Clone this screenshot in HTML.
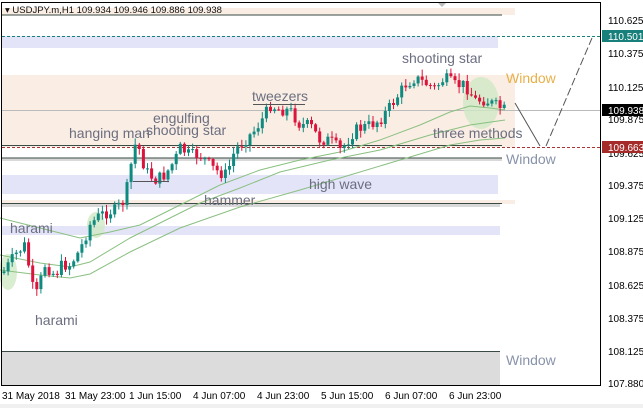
<!DOCTYPE html><html><head><style>body{margin:0;background:#fff}svg{display:block;font-family:"Liberation Sans",sans-serif}</style></head><body>
<svg id="s" width="643" height="408" xmlns="http://www.w3.org/2000/svg">
<rect width="643" height="408" fill="#fff"/>
<rect x="2" y="8" width="513" height="7" fill="#faeee4"/><line x1="2" y1="15" x2="502" y2="15" stroke="#3a4a45"/>
<rect x="2" y="36" width="496" height="12" fill="#e4e4f8"/>
<rect x="2" y="75" width="513" height="72" fill="#faeee4"/>
<rect x="2" y="175" width="496" height="19" fill="#e4e4f8"/>
<rect x="2" y="200" width="513" height="4" fill="#faeee4"/><rect x="2" y="204" width="498" height="3" fill="#d9d9d9"/><line x1="2" y1="203.5" x2="502" y2="203.5" stroke="#3a4a45"/>
<rect x="2" y="226" width="498" height="9" fill="#e4e4f8"/>
<rect x="2" y="351" width="498" height="34" fill="#dcdcdc"/><line x1="2" y1="351.5" x2="500" y2="351.5" stroke="#3a4a45"/>
<rect x="2" y="158" width="500" height="3" fill="#d9d9d9"/><line x1="2" y1="158" x2="502" y2="158" stroke="#3a4a45"/>
<line x1="2" y1="145.5" x2="502" y2="145.5" stroke="#3a4a45"/>
<line x1="2" y1="110.5" x2="600" y2="110.5" stroke="#bbb"/>
<line x1="2" y1="36.5" x2="600" y2="36.5" stroke="#17807a" stroke-dasharray="3,2"/>
<line x1="2" y1="147.5" x2="600" y2="147.5" stroke="#a33" stroke-dasharray="3,2"/>
<ellipse cx="481" cy="103" rx="18" ry="26" fill="#cfe8c4" opacity=".8"/>
<ellipse cx="8" cy="272" rx="9" ry="18" fill="#cfe8c4" opacity=".8"/>
<ellipse cx="96" cy="225" rx="9" ry="13" fill="#cfe8c4" opacity=".8"/>
<g id="ma" fill="none" stroke="#8ac081" stroke-width="1">
<polyline points="0,218 40,228 80,238 110,232 140,225 180,205 220,185 260,170 300,160 340,152 380,140 420,125 450,112 470,106 490,108 505,110"/>
<polyline points="0,255 40,263 70,267 90,262 130,238 170,218 200,203 240,188 280,172 330,160 380,150 430,135 470,125 505,120"/>
<polyline points="0,270 40,275 70,278 90,274 130,252 180,228 240,207 300,190 350,175 400,160 450,145 480,140 505,138"/>
</g>
<g id="c"></g>
<line x1="133" y1="181.5" x2="169" y2="181.5" stroke="#555"/><line x1="253" y1="104.5" x2="305" y2="104.5" stroke="#555"/>
<line x1="515" y1="103" x2="540" y2="146" stroke="#555"/><line x1="546" y1="146" x2="592" y2="38" stroke="#555" stroke-dasharray="8,3"/>
<g font-size="14" fill="#6b6e80">
<text x="69" y="138">hanging man</text><text x="153" y="123">engulfing</text><text x="146" y="135">shooting star</text>
<text x="252" y="101">tweezers</text><text x="402" y="63">shooting star</text><text x="433" y="138">three methods</text>
<text x="309" y="189">high wave</text><text x="204" y="205">hammer</text><text x="10" y="233">harami</text><text x="35" y="325">harami</text>
<text x="506" y="83" fill="#e8b04a">Window</text><text x="506" y="164" fill="#8892aa">Window</text><text x="506" y="365" fill="#8892aa">Window</text>
</g>
<rect x="0" y="0" width="643" height="8" fill="#fff"/>
<text x="5" y="13" font-size="9.5" fill="#111">▾ USDJPY.m,H1  109.934 109.946 109.886 109.938</text>
<polygon points="437,2 447,2 442,7" fill="#bbb"/>
<rect x="1.5" y="2.5" width="599" height="383" fill="none" stroke="#000"/>
<g font-size="10" fill="#000" id="yl">
<text x="608" y="24">110.625</text><text x="608" y="57">110.375</text><text x="608" y="91">110.125</text><text x="608" y="123">109.875</text><text x="608" y="157">109.625</text><text x="608" y="189">109.375</text><text x="608" y="222">109.125</text><text x="608" y="255">108.875</text><text x="608" y="289">108.625</text><text x="608" y="322">108.375</text><text x="608" y="355">108.125</text><text x="608" y="387">107.880</text>
</g>
<rect x="602" y="30" width="41" height="12" fill="#17807a"/><text x="608" y="40" font-size="10" fill="#fff">110.501</text>
<rect x="602" y="104" width="41" height="12" fill="#000"/><text x="608" y="114" font-size="10" fill="#fff">109.938</text>
<rect x="602" y="141" width="41" height="12" fill="#a52a2a"/><text x="608" y="151" font-size="10" fill="#fff">109.663</text>
<g font-size="10" fill="#000"><text x="2" y="399">31 May 2018</text><text x="65" y="399">31 May 23:00</text><text x="129" y="399">1 Jun 15:00</text><text x="193" y="399">4 Jun 07:00</text><text x="257" y="399">4 Jun 23:00</text><text x="321" y="399">5 Jun 15:00</text><text x="385" y="399">6 Jun 07:00</text><text x="449" y="399">6 Jun 23:00</text></g>
<rect x="0" y="404" width="643" height="4" fill="#f0f0f0"/>
</svg>
<script>
var k=[[5,270],[15,255],[25,245],[35,300],[45,265],[55,275],[62,265],[70,265],[80,250],[90,225],[100,215],[115,210],[125,200],[130,170],[135,145],[140,150],[145,170],[155,180],[165,175],[175,160],[180,148],[190,155],[200,155],[210,165],[215,170],[225,175],[230,165],[235,150],[245,140],[255,130],[265,115],[270,105],[280,110],[290,110],[300,125],[310,125],[320,140],[330,140],[340,150],[345,145],[355,130],[370,125],[380,120],[395,100],[405,85],[415,78],[425,83],[435,88],[445,78],[455,85],[465,85],[475,100],[485,100],[495,105],[505,110]];
function f(x){for(var i=1;i<k.length;i++)if(x<=k[i][0]){var a=k[i-1],b=k[i];return a[1]+(b[1]-a[1])*(x-a[0])/(b[0]-a[0]);}return 110;}
var g=document.getElementById('c'),h='',s=7,prev=f(3);
function r(){s=(s*9301+49297)%233280;return s/233280;}
for(var x=4;x<=505;x+=4.1){var c=f(x)+(r()-.5)*12,o=prev;var t=Math.min(o,c)-r()*6-1,b=Math.max(o,c)+r()*6+1;var col=c<o?'#0f8a80':'#dc143c';
h+='<line x1="'+x.toFixed(1)+'" y1="'+t.toFixed(1)+'" x2="'+x.toFixed(1)+'" y2="'+b.toFixed(1)+'" stroke="'+col+'"/>';
h+='<rect x="'+(x-1.5).toFixed(1)+'" y="'+Math.min(o,c).toFixed(1)+'" width="3" height="'+Math.max(1,Math.abs(o-c)).toFixed(1)+'" fill="'+col+'"/>';prev=c;}
g.innerHTML=h;
</script>
</body></html>
